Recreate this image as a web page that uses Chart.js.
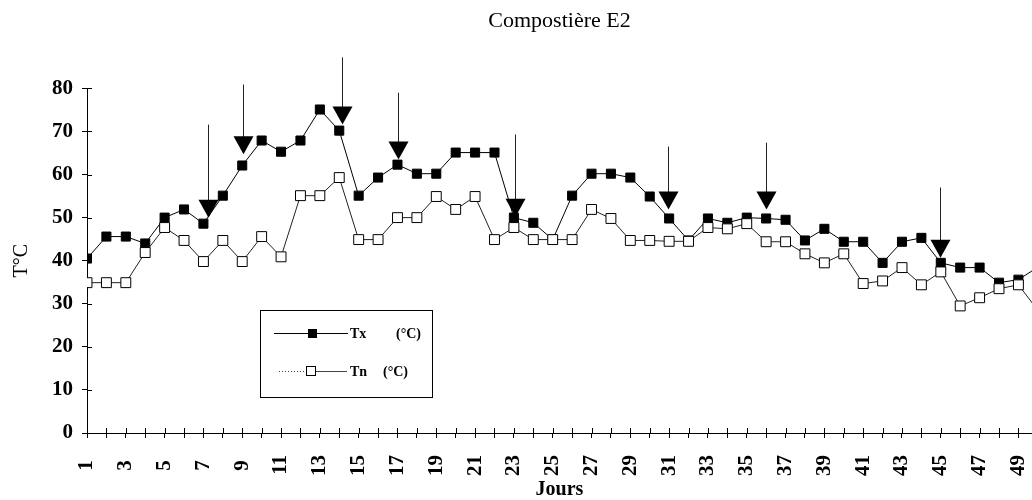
<!DOCTYPE html>
<html>
<head>
<meta charset="utf-8">
<title>Compostière E2</title>
<script src="https://cdn.jsdelivr.net/npm/chart.js@4"></script>
<style>
  html, body { margin: 0; padding: 0; background: #fff; }
  #wrap { width: 1032px; height: 500px; }
</style>
</head>
<body>
<div id="wrap"><canvas id="chart" width="1032" height="500"></canvas></div>
<script>
// jours de compostage
const jours = [1, 2, 3, 4, 5, 6, 7, 8, 9, 10, 11, 12, 13, 14, 15, 16, 17, 18, 19, 20,
               21, 22, 23, 24, 25, 26, 27, 28, 29, 30, 31, 32, 33, 34, 35, 36, 37, 38, 39, 40,
               41, 42, 43, 44, 45, 46, 47, 48, 49, 50];
// Tx (°C) temperature maxi
const tx = [40.5, 45.6, 45.6, 44, 50, 51.9, 48.6, 55.1, 62.1, 67.9,
            65.3, 67.9, 75.1, 70.2, 55.1, 59.3, 62.3, 60.2, 60.2, 65.1,
            65.1, 65.1, 50, 48.8, 44.9, 55.1, 60.2, 60.2, 59.3, 54.9,
            49.8, 44.7, 49.8, 48.8, 50, 49.8, 49.5, 44.7, 47.4, 44.4,
            44.4, 39.5, 44.4, 45.3, 39.5, 38.4, 38.4, 34.9, 35.6, 38.5];
// Tn (°C) temperature mini
const tn = [34.9, 34.9, 34.9, 41.9, 47.7, 44.7, 39.8, 44.7, 39.8, 45.6,
            40.9, 55.1, 55.1, 59.3, 44.9, 44.9, 50, 50, 54.9, 51.9,
            54.9, 44.9, 47.7, 44.9, 44.9, 44.9, 51.9, 49.8, 44.7, 44.7,
            44.5, 44.5, 47.7, 47.4, 48.6, 44.4, 44.4, 41.6, 39.5, 41.6,
            34.7, 35.3, 38.4, 34.4, 37.4, 29.5, 31.4, 33.5, 34.4, 28.5];
// fleches (retournements) : jour, pointe (°C), haut du trait (°C)
const flecheJours = [7.25, 9.05, 14.15, 17.05, 23.05, 30.95, 36, 44.95];
const flechePointe = [50, 64.7, 71.6, 63.5, 50.2, 51.9, 51.9, 40.7];
const flecheHaut = [71.6, 80.9, 87.2, 79, 69.3, 66.5, 67.4, 57];

const serif = "'Liberation Serif', 'Times New Roman', serif";
Chart.defaults.font.family = serif;
Chart.defaults.color = "#000";

const extras = {
    id: "extras",
    afterDatasetsDraw(chart) {
        const { ctx, chartArea } = chart;
        const x = chart.scales.x, y = chart.scales.y;
        ctx.save();

        // petites graduations vers l'interieur
        ctx.strokeStyle = "#000";
        ctx.lineWidth = 1;
        ctx.beginPath();
        y.ticks.forEach(t => {
            const py = Math.round(y.getPixelForValue(t.value)) + 0.5;
            ctx.moveTo(chartArea.left, py);
            ctx.lineTo(chartArea.left + 5, py);
        });
        x.ticks.forEach(t => {
            if (!Number.isInteger(t.value)) return;
            const px = Math.round(x.getPixelForValue(t.value)) + 0.5;
            ctx.moveTo(px, chartArea.bottom);
            ctx.lineTo(px, chartArea.bottom - 5);
        });
        ctx.stroke();

        // fleches
        flecheJours.forEach((d, i) => {
            const px = Math.round(x.getPixelForValue(d)) + 0.5;
            const tip = y.getPixelForValue(flechePointe[i]);
            const top = y.getPixelForValue(flecheHaut[i]);
            ctx.beginPath();
            ctx.moveTo(px, top);
            ctx.lineTo(px, tip - 17);
            ctx.strokeStyle = "#222";
            ctx.stroke();
            ctx.beginPath();
            ctx.moveTo(px - 10, tip - 18);
            ctx.lineTo(px + 10, tip - 18);
            ctx.lineTo(px, tip);
            ctx.closePath();
            ctx.fillStyle = "#000";
            ctx.fill();
        });

        // legende
        ctx.strokeStyle = "#000";
        ctx.strokeRect(260.5, 310.5, 172, 87);
        ctx.beginPath();
        ctx.moveTo(274, 333.5);
        ctx.lineTo(348, 333.5);
        ctx.stroke();
        ctx.fillStyle = "#000";
        ctx.fillRect(308, 329, 9, 9);

        ctx.strokeStyle = "#444";
        ctx.setLineDash([1, 2]);
        ctx.beginPath();
        ctx.moveTo(279, 371.5);
        ctx.lineTo(306, 371.5);
        ctx.stroke();
        ctx.setLineDash([]);
        ctx.beginPath();
        ctx.moveTo(316, 371.5);
        ctx.lineTo(347, 371.5);
        ctx.stroke();
        ctx.fillStyle = "#fff";
        ctx.strokeStyle = "#000";
        ctx.fillRect(306.5, 366.5, 9, 9);
        ctx.strokeRect(306.5, 366.5, 9, 9);

        ctx.fillStyle = "#000";
        ctx.font = "bold 14px " + serif;
        ctx.textBaseline = "middle";
        ctx.textAlign = "left";
        ctx.fillText("Tx", 350, 334);
        ctx.fillText("(°C)", 396, 334);
        ctx.fillText("Tn", 350, 372);
        ctx.fillText("(°C)", 383, 372);

        ctx.restore();
    }
};

const ctx = document.getElementById("chart").getContext("2d");
const chart = new Chart(ctx, {
    type: "line",
    data: {
        datasets: [{
            label: "Tn (°C)",
            data: jours.map((j, i) => ({ x: j, y: tn[i] })),
            borderColor: "#222",
            borderWidth: 1,
            backgroundColor: "#fff",
            pointStyle: "rect",
            pointRadius: 7,
            pointBorderColor: "#000",
            pointBorderWidth: 1,
            pointBackgroundColor: "#fff",
            tension: 0,
            order: 0
        }, {
            label: "Tx (°C)",
            data: jours.map((j, i) => ({ x: j, y: tx[i] })),
            borderColor: "#000",
            borderWidth: 1,
            backgroundColor: "#000",
            pointStyle: "rect",
            pointRadius: 6.4,
            pointBorderColor: "#000",
            pointBackgroundColor: "#000",
            tension: 0,
            order: 1
        }]
    },
    options: {
        responsive: false,
        animation: false,
        devicePixelRatio: 1,
        events: [],
        layout: { padding: 0, autoPadding: false },
        plugins: {
            legend: { display: false },
            tooltip: { enabled: false },
            title: {
                display: true,
                text: "Compostière E2",
                fullSize: false,
                color: "#000",
                font: { size: 22, weight: "normal" },
                padding: { top: 8, bottom: 54 }
            }
        },
        scales: {
            x: {
                type: "linear",
                min: 1,
                max: 49.7,
                border: { display: true, color: "#000", width: 1 },
                grid: { drawOnChartArea: false, tickLength: 5, color: "#000" },
                ticks: {
                    stepSize: 1,
                    autoSkip: false,
                    includeBounds: false,
                    minRotation: 90,
                    maxRotation: 90,
                    padding: 17,
                    color: "#000",
                    font: { size: 21, weight: "bold" },
                    callback: v => (Number.isInteger(v) && v % 2 === 1) ? (v < 10 ? v + " " : String(v)) : ""
                },
                title: {
                    display: true,
                    text: "Jours",
                    color: "#000",
                    font: { size: 20, weight: "bold" },
                    padding: { top: 0, bottom: -2 }
                },
                afterFit: s => { s.height = 67; s.paddingLeft = 0; s.paddingRight = 0; }
            },
            y: {
                min: 0,
                max: 80,
                border: { display: true, color: "#000", width: 1 },
                grid: { drawOnChartArea: false, tickLength: 5, color: "#000" },
                ticks: {
                    stepSize: 10,
                    padding: 9,
                    color: "#000",
                    font: { size: 21, weight: "bold" }
                },
                title: {
                    display: true,
                    text: "T°C",
                    color: "#000",
                    font: { size: 20, weight: "normal" },
                    padding: { top: 10, bottom: 0 }
                },
                afterFit: s => { s.width = 87; }
            }
        }
    },
    plugins: [extras]
});
</script>
</body>
</html>
